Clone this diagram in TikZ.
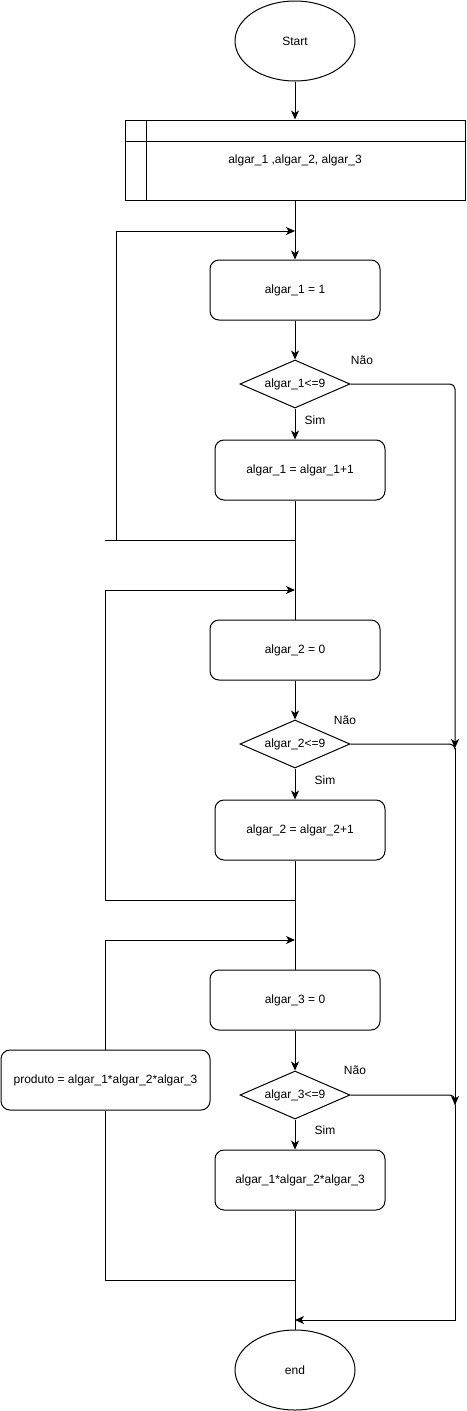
\documentclass[tikz,border=0pt]{standalone}
\usepackage{fontspec}
\setmainfont{Liberation Sans}
\usetikzlibrary{shapes.geometric,arrows.meta}
\begin{document}
\begin{tikzpicture}[x=1pt,y=-1pt,
  every node/.style={font=\fontsize{12}{14}\selectfont},
  conn/.style={line width=1pt},
  arr/.style={conn,-{Stealth[length=9pt,width=8pt,inset=2.5pt]}},
  proc/.style={draw,line width=1pt,rounded corners=9pt,minimum width=170pt,minimum height=60pt,inner sep=0pt},
  dec/.style={draw,diamond,aspect=2.29,line width=1pt,minimum width=110pt,minimum height=48pt,inner sep=0pt},
  term/.style={draw,ellipse,line width=1pt,minimum width=120pt,minimum height=80pt,inner sep=0pt},
  lbl/.style={inner sep=0pt}]
\useasboundingbox (0,0) rectangle (466,1411);

% nodes
\node[term] (start) at (295,41) {Start};
\node[draw,line width=1pt,minimum width=340pt,minimum height=80pt,inner sep=0pt] (decl) at (295,160) {algar\_1 ,algar\_2, algar\_3};
\draw[conn] (125,141) -- (465,141);
\draw[conn] (146,120) -- (146,200);

\node[proc] (i1) at (295,290) {algar\_1 = 1};
\node[dec] (d1) at (295,384) {algar\_1<=9};
\node[proc] (u1) at (300,470) {algar\_1 = algar\_1+1};

\node[proc] (i2) at (295,650) {algar\_2 = 0};
\node[dec] (d2) at (295,744) {algar\_2<=9};
\node[proc] (u2) at (300,830) {algar\_2 = algar\_2+1};

\node[proc] (i3) at (295,1000) {algar\_3 = 0};
\node[dec] (d3) at (295,1095) {algar\_3<=9};
\node[proc] (u3) at (300,1180) {algar\_1*algar\_2*algar\_3};

\node[proc,minimum width=209pt] (prod) at (105.5,1080) {produto = algar\_1*algar\_2*algar\_3};

\node[term] (end) at (295,1370) {end};

% labels
\node[lbl] (n1) at (362,360) {Não};
\node[lbl] (s1) at (315,420) {Sim};
\node[lbl] (n2) at (345,720) {Não};
\node[lbl] (s2) at (325,780) {Sim};
\node[lbl] (n3) at (355,1070) {Não};
\node[lbl] (s3) at (325,1130) {Sim};

% coordinates
\coordinate (j1) at (295,540);
\coordinate (l1) at (105,540);
\coordinate (k1) at (116,540);
\coordinate (t1) at (295,231);
\coordinate (j2) at (295,900);
\coordinate (t2) at (295,590);
\coordinate (t3) at (295,940);
\coordinate (j3) at (295,1280);
\coordinate (r1) at (455,384);
\coordinate (a2) at (455,748);
\coordinate (a3) at (455,1105);
\coordinate (r4) at (455,1320);
\coordinate (e4) at (295,1320);

% connectors
\draw[arr] (start) -- (decl);
\draw[arr] (decl.south) -- (i1.north);
\draw[arr] (i1) -- (d1);
\draw[arr] (d1.south) -- (d1.south |- u1.north);
\draw[conn] (u1.south -| i1.south) -- (i2.north);
\draw[conn] (j1) -- (l1);
\draw[arr] (k1) |- (t1);

\draw[arr] (i2) -- (d2);
\draw[arr] (d2.south) -- (d2.south |- u2.north);
\draw[conn] (u2.south -| i2.south) -- (i3.north);
\draw[arr] (j2) -- (105,900) |- (t2);

\draw[arr] (i3) -- (d3);
\draw[arr] (d3.south) -- (d3.south |- u3.north);
\draw[conn] (u3.south -| i3.south) -- (end.north);
\draw[conn] (j3) -| (prod.south);
\draw[arr] (prod.north) |- (t3);

\draw[arr,rounded corners=5pt] (d1.east) -- (r1) -- (a2);
\draw[conn,rounded corners=5pt] (d2.east) -- (455,744) -- (a2);
\draw[arr] (a2) -- (a3);
\draw[conn,rounded corners=5pt] (d3.east) -- (455,1095) -- (a3);
\draw[arr] (a3) |- (e4);
\end{tikzpicture}
\end{document}
